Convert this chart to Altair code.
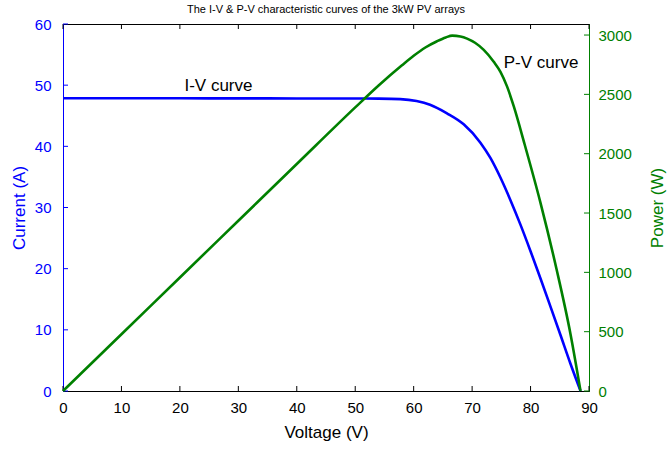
import altair as alt
import pandas as pd

# ---- data ----
title_text = "The I-V & P-V characteristic curves of the 3kW PV arrays"

iv_voltage = [0, 10, 20, 30, 40, 50, 54, 57.7, 60.5, 62.8, 65.7, 68.56, 71.42, 73.13, 74.84, 76.56, 78.27,
              79.98, 81.70, 83.41, 85.12, 86.83, 88.55]
iv_current = [47.85, 47.85, 47.85, 47.84, 47.83, 47.82, 47.8, 47.72, 47.4, 46.8, 45.4, 43.6, 40.6, 38.1,
              34.9, 31.2, 27.2, 22.9, 18.4, 13.8, 9.15, 4.45, 0]

pv_voltage = [0, 10, 20, 30, 40, 50, 54, 58, 60, 62, 64, 65.5, 66.6, 68, 69.14, 70.5, 71.99, 73.70, 74.85,
              75.99, 77.12, 78.95, 81.69, 84.43, 86.83, 88.55]
pv_power = [0, 478, 957, 1435, 1913, 2390, 2575, 2745, 2825, 2895, 2948, 2980, 2995, 2988, 2970, 2935,
            2875, 2775, 2690, 2565, 2400, 2085, 1588, 1030, 481, 0]

x_ticks = [0, 10, 20, 30, 40, 50, 60, 70, 80, 90]
left_ticks = [0, 10, 20, 30, 40, 50, 60]
right_ticks = [0, 500, 1000, 1500, 2000, 2500, 3000]

label_text = ["I-V curve", "P-V curve"]
label_v = [26.6, 81.8]
label_y = [49.9, 2765]

# ---- style ----
FONT = "Liberation Sans"
BLUE = "#0000ff"
GREEN = "#008000"
W, H = 526, 367

iv_df = pd.DataFrame({"V": iv_voltage, "I": iv_current})
pv_df = pd.DataFrame({"V": pv_voltage, "P": pv_power})
xt_df = pd.DataFrame({"V": x_ticks})
lt_df = pd.DataFrame({"I": left_ticks})
rt_df = pd.DataFrame({"P": right_ticks})
iv_lab = pd.DataFrame({"V": [label_v[0]], "I": [label_y[0]], "t": [label_text[0]]})
pv_lab = pd.DataFrame({"V": [label_v[1]], "P": [label_y[1]], "t": [label_text[1]]})

x_scale = alt.Scale(domain=[0, 90], nice=False, zero=False)
x_axis = alt.Axis(values=x_ticks, ticks=False, grid=False, title="Voltage (V)", labelFontSize=15,
                  titleFontSize=17, labelFont=FONT, titleFont=FONT, titleFontWeight="normal",
                  labelColor="black", titleColor="black", domainColor="black", labelPadding=9,
                  titlePadding=9, labelFlush=False, labelOverlap=False)


def X():
    return alt.X("V:Q", scale=x_scale, axis=x_axis)


left_axis = alt.Axis(values=left_ticks, ticks=False, grid=False, title="Current (A)", labelFontSize=15,
                     titleFontSize=17, labelFont=FONT, titleFont=FONT, titleFontWeight="normal",
                     labelColor=BLUE, titleColor=BLUE, domainColor=BLUE, labelPadding=12,
                     titlePadding=6, labelOverlap=False)
right_axis = alt.Axis(values=right_ticks, ticks=False, grid=False, title="Power (W)", labelFontSize=15,
                      titleFontSize=17, labelFont=FONT, titleFont=FONT, titleFontWeight="normal",
                      labelColor=GREEN, titleColor=GREEN, domainColor=GREEN, labelPadding=9,
                      orient="right", labelOverlap=False, format="d",
                      titleAngle=270, titleBaseline="middle", titleAlign="center",
                      titleX=68, titleY=H / 2)
left_scale = alt.Scale(domain=[0, 60], nice=False)
right_scale = alt.Scale(domain=[0, 3093], nice=False)


def YL():
    return alt.Y("I:Q", scale=left_scale, axis=left_axis)


def YR():
    return alt.Y("P:Q", scale=right_scale, axis=right_axis)


iv_line = alt.Chart(iv_df).mark_line(color=BLUE, strokeWidth=2.6, interpolate="monotone").encode(x=X(), y=YL())
x_ticks_bottom = alt.Chart(xt_df).mark_rule(color="black").encode(x=X(), y=alt.value(H), y2=alt.value(H - 5))
x_ticks_top = alt.Chart(xt_df).mark_rule(color="black").encode(x=X(), y=alt.value(0), y2=alt.value(5))
l_ticks = alt.Chart(lt_df).mark_rule(color=BLUE).encode(y=YL(), x=alt.value(0), x2=alt.value(5))
iv_text = alt.Chart(iv_lab).mark_text(font=FONT, fontSize=17, color="black").encode(x=X(), y=YL(), text="t:N")

left = alt.layer(iv_line, x_ticks_bottom, x_ticks_top, l_ticks, iv_text)

pv_line = alt.Chart(pv_df).mark_line(color=GREEN, strokeWidth=2.6, interpolate="monotone").encode(x=X(), y=YR())
r_ticks = alt.Chart(rt_df).mark_rule(color=GREEN).encode(y=YR(), x=alt.value(W), x2=alt.value(W - 5))
pv_text = alt.Chart(pv_lab).mark_text(font=FONT, fontSize=17, color="black").encode(x=X(), y=YR(), text="t:N")

right = alt.layer(pv_line, r_ticks, pv_text)

chart = (
    alt.layer(left, right)
    .resolve_scale(y="independent")
    .properties(
        width=W,
        height=H,
        title=alt.TitleParams(title_text, font=FONT, fontSize=11, fontWeight="normal", color="black",
                              anchor="middle", offset=2),
        autosize=alt.AutoSizeParams(type="none"),
        padding={"left": 63, "top": 24, "right": 668 - 63 - W, "bottom": 450 - 24 - H},
        background="white",
    )
    .configure_view(stroke="black", strokeWidth=1)
)

chart.save("out.html", embed_options={"renderer": "svg", "actions": False})
